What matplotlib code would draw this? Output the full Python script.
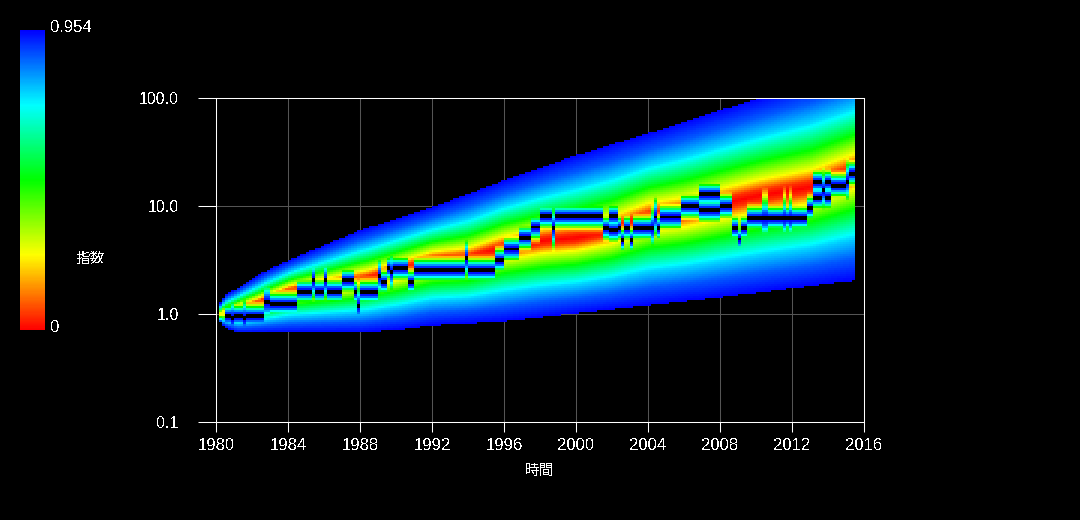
import numpy as np
import matplotlib
matplotlib.use('Agg')
import matplotlib.pyplot as plt
from matplotlib.colors import LinearSegmentedColormap

plt.rcParams['font.family'] = ['Liberation Sans', 'Noto Sans CJK JP', 'DejaVu Sans']
plt.rcParams['text.antialiased'] = False

# everything below is read off the picture. the dense cell field itself is
# not readable cell by cell, so it gets rebuilt from these edges, ridge and levels
max_index = 0.954

upper_years = [1980.17, 1980.5, 1982.83, 1984.67, 1988, 1992, 1996, 2000, 2004, 2008, 2012, 2015.5]
upper_price = [1.21, 1.50, 2.56, 3.52, 6.0, 9.8, 17.4, 29.7, 47.4, 77.4, 126, 190]

lower_years = [1980.17, 1980.5, 1981.2, 1988, 1990.3, 1992, 1996, 2000, 2004, 2008, 2012, 2015.5]
lower_price = [0.86, 0.76, 0.68, 0.68, 0.726, 0.79, 0.861, 1.02, 1.21, 1.44, 1.74, 2.06]

ridge_years = [1980.2, 1982.33, 1984.1, 1988.4, 1992, 1994, 1996, 1998.2, 2000, 2002, 2004, 2006, 2008, 2010.2, 2013, 2015.5]
ridge_price = [1.0, 1.29, 1.67, 2.15, 3.16, 3.3, 4.2, 4.84, 5.1, 6.0, 8.0, 8.8, 10.5, 12.6, 15, 21.5]

# how the index grows going from the ridge (0) out to the edge (1)
profile_pos = [0, 0.06, 0.17, 0.37, 0.61, 0.8, 1]
profile_val = [0, 0.05, 0.25, 0.5, 0.75, 0.87, 0.954]

# start year, end year, level of the dark line
level_start = [1980.5, 1983.0, 1984.56, 1987.0, 1987.72, 1989.0, 1989.56, 1990.61, 1990.94, 1995.56,
               1996.0, 1996.78, 1997.5, 1998.06, 2001.5, 2001.78, 2001.78, 2002.33, 2002.56, 2002.72,
               2002.94, 2003.17, 2004.67, 2005.78, 2006.83, 2006.83, 2007.94, 2008.61, 2008.94, 2009.22,
               2009.5, 2012.89, 2013.17, 2013.17, 2014.11, 2015.06]
level_end = [1983.0, 1984.56, 1987.0, 1987.72, 1989.0, 1989.56, 1990.61, 1990.94, 1995.56, 1996.0,
             1996.78, 1997.5, 1998.06, 2001.5, 2001.78, 2002.33, 2002.33, 2002.56, 2002.72, 2002.94,
             2003.17, 2004.67, 2005.78, 2006.83, 2007.94, 2007.94, 2008.61, 2008.94, 2009.22, 2009.5,
             2012.89, 2013.17, 2014.11, 2014.11, 2015.06, 2015.5]
level_price = [0.958, 1.24, 1.63, 2.06, 1.60, 1.98, 2.67, 1.98, 2.56, 3.16,
               4.0, 5.16, 6.39, 8.08, 6.26, 8.08, 6.0, 6.26, 4.84, 6.26,
               4.84, 6.26, 7.91, 10.0, 12.9, 9.18, 10.0, 6.26, 4.95, 6.26,
               7.74, 9.59, 12.1, 16.7, 15.6, 20.2]

spike_years = [1981.0, 1981.67, 1982.83, 1982.94, 1985.39, 1986.17, 1987.94, 1989.06, 1989.72, 1994.0,
               1998.72, 2004.22, 2004.44, 2010.39, 2010.56, 2011.61, 2011.89, 2013.83, 2015.06]
spike_price = [0.92, 0.92, 1.29, 1.29, 2.06, 2.06, 1.2, 2.25, 2.45, 3.3,
               6.3, 6.26, 8.0, 7.74, 7.74, 7.74, 7.74, 14.0, 17.0]

year_ticks = list(range(1980, 2017, 4))
price_ticks = [0.1, 1, 10, 100]
price_labels = ['0.1', '1.0', '10.0', '100.0']

# cells are about 3px wide and 2px high in the original
year_edges = np.arange(1980.17, 2015.55, 1 / 6)
log_edges = np.arange(-0.2, 2.03, 1 / 54)
year_mid = (year_edges[:-1] + year_edges[1:]) / 2
log_mid = (log_edges[:-1] + log_edges[1:]) / 2

top = np.interp(year_mid, upper_years, np.log10(upper_price))
bottom = np.interp(year_mid, lower_years, np.log10(lower_price))
ridge = np.interp(year_mid, ridge_years, np.log10(ridge_price))

field = np.ma.masked_all((len(log_mid), len(year_mid)))
spike_col = [np.argmin(np.abs(year_mid - s)) for s in spike_years]

for i, yr in enumerate(year_mid):
    d = log_mid - ridge[i]
    rel = np.where(d > 0, d / (top[i] - ridge[i]), -d / (ridge[i] - bottom[i]))
    base = np.interp(rel, profile_pos, profile_val)
    notch = np.zeros_like(base)
    if i in spike_col:
        lev = np.log10(spike_price[spike_col.index(i)])
        notch = 0.962 * np.exp(-(np.abs(log_mid - lev) / 0.18) ** 2)
    else:
        for a, b, p in zip(level_start, level_end, level_price):
            if a <= yr < b:
                notch = np.maximum(notch, 0.962 * np.exp(-(np.abs(log_mid - np.log10(p)) / 0.1) ** 2.5))
    col = np.maximum(base, notch)
    if yr < 1980.5:
        col = np.maximum(col, 0.25)
    inside = (log_mid <= top[i]) & (log_mid >= bottom[i])
    field[inside, i] = col[inside]

cmap = LinearSegmentedColormap.from_list(
    'index', [(0, '#ff0000'), (0.25, '#ffff00'), (0.5, '#00ff00'), (0.75, '#00ffff'), (1, '#0000ff')], N=256)
cmap.set_over('black')
cmap.set_bad((0, 0, 0, 0))

fig = plt.figure(figsize=(10.8, 5.2), dpi=100, facecolor='black')
ax = fig.add_axes([216 / 1080, 1 - 422 / 520, 648 / 1080, 324 / 520], facecolor='black')

mesh = ax.pcolormesh(year_edges, 10.0 ** log_edges, field, cmap=cmap, vmin=0, vmax=max_index,
                     shading='flat', antialiased=False, linewidth=0)
ax.set_yscale('log')
ax.set_xlim(1980, 2016)
ax.set_ylim(0.1, 100)
ax.set_axisbelow(True)
ax.grid(True, color='#555555', linewidth=0.75)

ax.set_xticks(year_ticks)
ax.set_yticks(price_ticks)
ax.set_yticklabels(price_labels)
ax.minorticks_off()
ax.tick_params(axis='x', colors='white', length=7.2, width=0.75, labelsize=12, pad=4.5)
ax.tick_params(axis='y', colors='white', length=13, width=0.75, labelsize=11.5, pad=14)
for s in ax.spines.values():
    s.set_color('white')
    s.set_linewidth(0.75)

cax = fig.add_axes([20 / 1080, 1 - 330 / 520, 25 / 1080, 300 / 520])
cbar = fig.colorbar(mesh, cax=cax, ticks=[])
cbar.outline.set_visible(False)

fig.text(50 / 1080, 1 - 28 / 520, '0.954', color='white', fontsize=12, va='center')
fig.text(50 / 1080, 1 - 328 / 520, '0', color='white', fontsize=12, va='center')
fig.text(90.5 / 1080, 1 - 259 / 520, '指数', color='white', fontsize=10.5, va='center', ha='center')
fig.text(540 / 1080, 1 - 471 / 520, '時間', color='white', fontsize=10.5, va='center', ha='center')

fig.savefig('out.png', dpi=100, facecolor='black')
